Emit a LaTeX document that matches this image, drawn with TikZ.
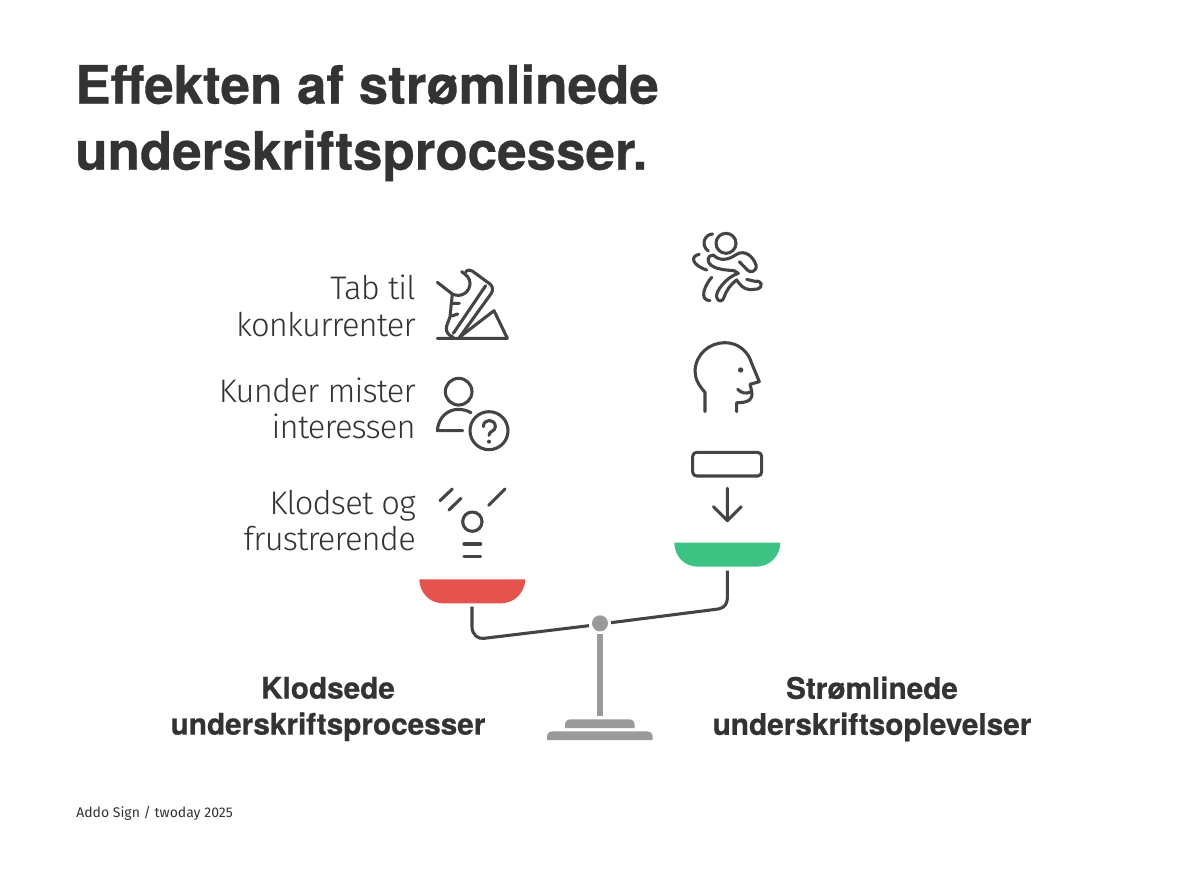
\documentclass[tikz,border=0pt]{standalone}
\usepackage{fontspec}
\setmainfont{TeX Gyre Heros}
\newfontfamily\lightf[Ligatures=NoCommon,LetterSpace=-2.5]{Fira Sans Light}
\newfontfamily\footf{Fira Sans}
\newfontfamily\boldf[FakeBold=0.6]{TeX Gyre Heros Bold}
\definecolor{ink}{HTML}{333333}
\definecolor{icon}{HTML}{444444}
\definecolor{stand}{HTML}{9A9A9A}
\definecolor{redpan}{HTML}{E5534F}
\definecolor{greenpan}{HTML}{3CC383}
\tikzset{
 px/.style={x=0.75pt,y=-0.75pt},
 zm/.style={x=0.25pt,y=-0.25pt},
 ic/.style={draw=icon,line width=2.3pt,line cap=round,line join=round,fill=none},
 body/.style={font=\lightf\fontsize{24.5}{27.5}\selectfont,text=ink,align=right,anchor=east,inner sep=0pt},
 head/.style={font=\boldf\fontsize{22.3}{27}\selectfont,text=ink,align=center,inner sep=0pt},
 ttl/.style={font=\boldf\fontsize{39.7}{49.5}\selectfont,text=ink,align=left,inner sep=0pt,anchor=north west},
}
\begin{document}
\begin{tikzpicture}[px]
\useasboundingbox (0,0) rectangle (1200,878);
\fill[white] (0,0) rectangle (1200,878);
\node[ttl] (title) at (75,64) {Effekten af strømlinede\\underskriftsprocesser.};
\node[body] (t1) at (416,306) {Tab til\\konkurrenter};
\node[body] (t2) at (416,408.5) {Kunder mister\\interessen};
\node[body] (t3) at (416,520.5) {Klodset og\\frustrerende};
\node[head] (h1) at (328,709) {Klodsede\\underskriftsprocesser};
\node[head] (h2) at (872,709) {Strømlinede\\underskriftsoplevelser};
\node[font=\footf\fontsize{10.5}{12}\selectfont,text=ink,anchor=base west,inner sep=0pt] (foot) at (76,817) {Addo Sign / twoday 2025};
% shoe
\begin{scope}[shift={(420,220)},zm]
\draw[ic] (52,355) -- (262,355) -- (222,272) -- (118,352);
\draw[ic] (52,187) -- (97,222) .. controls (125,235) and (150,215) .. (150,190) .. controls (150,175) and (140,165) .. (125,155);
\draw[ic] (137,155) .. controls (145,148) and (152,150) .. (158,154) -- (210,192) .. controls (218,198) and (220,210) .. (214,220) -- (120,350);
\draw[ic] (197,197) -- (100,340);
\draw[ic] (97,222) -- (90,290) -- (80,318) .. controls (75,335) and (85,345) .. (100,352);
\draw[ic] (97,250) -- (118,250) (95,288) -- (113,282);
\end{scope}
% person with question
\begin{scope}[shift={(420,360)},zm]
\draw[ic] (116,95) circle[radius=40];
\draw[ic] (128,212) -- (52,212) .. controls (55,170) and (85,148) .. (115,148) .. controls (128,148) and (142,152) .. (153,158);
\draw[ic] (207,212) circle[radius=57];
\draw[ic] (190,200) .. controls (190,175) and (226,175) .. (226,200) .. controls (226,215) and (207,212) .. (207,226);
\fill[icon] (207,245) circle[radius=6];
% clumsy
\draw[ic] (60,422) -- (97,387) (87,450) -- (123,415) (206,436) -- (255,387);
\draw[ic] (157,485) circle[radius=29];
\draw[ic] (132,552) -- (182,552) (132,589) -- (182,589);
\end{scope}
% runner
\begin{scope}[shift={(670,220)},zm]
\draw[ic] (168,70) circle[radius=30];
\draw[ic] (128,42) .. controls (105,42) and (90,75) .. (115,93);
\draw[ic] (88,103) .. controls (60,108) and (65,135) .. (110,150);
\draw[ic] (125,172) .. controls (105,195) and (85,240) .. (120,242);
\draw[ic] (130,105) .. controls (112,105) and (108,125) .. (125,137) .. controls (145,150) and (170,150) .. (192,152) -- (205,160) .. controls (170,170) and (135,215) .. (140,232) .. controls (145,248) and (158,245) .. (162,232) .. controls (170,210) and (180,195) .. (200,180) .. controls (210,195) and (220,207) .. (240,209) -- (262,207) .. controls (282,200) and (275,180) .. (255,184) -- (230,178);
\draw[ic] (130,105) .. controls (150,125) and (175,120) .. (200,103) .. controls (225,88) and (250,110) .. (258,135) .. controls (262,155) and (240,160) .. (232,150) -- (208,125);
\end{scope}
% head, box, arrow
\begin{scope}[shift={(670,330)},zm]
\draw[ic] (105,245) -- (105,187) .. controls (85,165) and (75,145) .. (75,122) .. controls (78,70) and (120,38) .. (165,38) .. controls (205,38) and (235,65) .. (245,100) -- (268,155) -- (240,163) .. controls (243,175) and (248,190) .. (245,200) .. controls (240,215) and (225,218) .. (200,218) -- (200,245);
\draw[ic] (203,178) .. controls (215,190) and (228,192) .. (242,186);
\fill[icon] (212,120) circle[radius=8];
\draw[ic,rounded corners=3pt] (68,367) rectangle (275,438);
\draw[ic] (172,475) -- (172,572) (130,530) -- (172,572) -- (214,530);
\end{scope}
% pans
\fill[greenpan] (674.3,542.7) -- (780.3,542.7) .. controls (780,556) and (770,566.7) .. (756,566.7) -- (698,566.7) .. controls (684,566.7) and (674.5,556) .. (674.3,542.7) -- cycle;
\fill[redpan] (419.3,579.3) -- (525.3,579.3) .. controls (525,592) and (515,603.3) .. (501,603.3) -- (443,603.3) .. controls (429,603.3) and (419.5,592) .. (419.3,579.3) -- cycle;
% beam
\begin{scope}[shift={(410,560)},zm]
\draw[ic,line cap=butt] (186,140) -- (186,200) .. controls (186,225) and (205,238) .. (222,235) -- (537,197);
\draw[ic,line cap=butt] (603,188) -- (925,147) .. controls (942,144) and (952,132) .. (952,115) -- (952,32);
\fill[stand] (570,190) circle[radius=24];
\fill[stand] (561,222) rectangle (578,467);
\fill[stand] (465,504) -- (465,495) .. controls (465,484) and (472,478) .. (482,478) -- (657,478) .. controls (667,478) and (674,484) .. (674,495) -- (674,504) -- cycle;
\fill[stand] (411,540) -- (411,531) .. controls (411,520) and (418,514) .. (428,514) -- (711,514) .. controls (721,514) and (728,520) .. (728,531) -- (728,540) -- cycle;
\end{scope}
\end{tikzpicture}
\end{document}
